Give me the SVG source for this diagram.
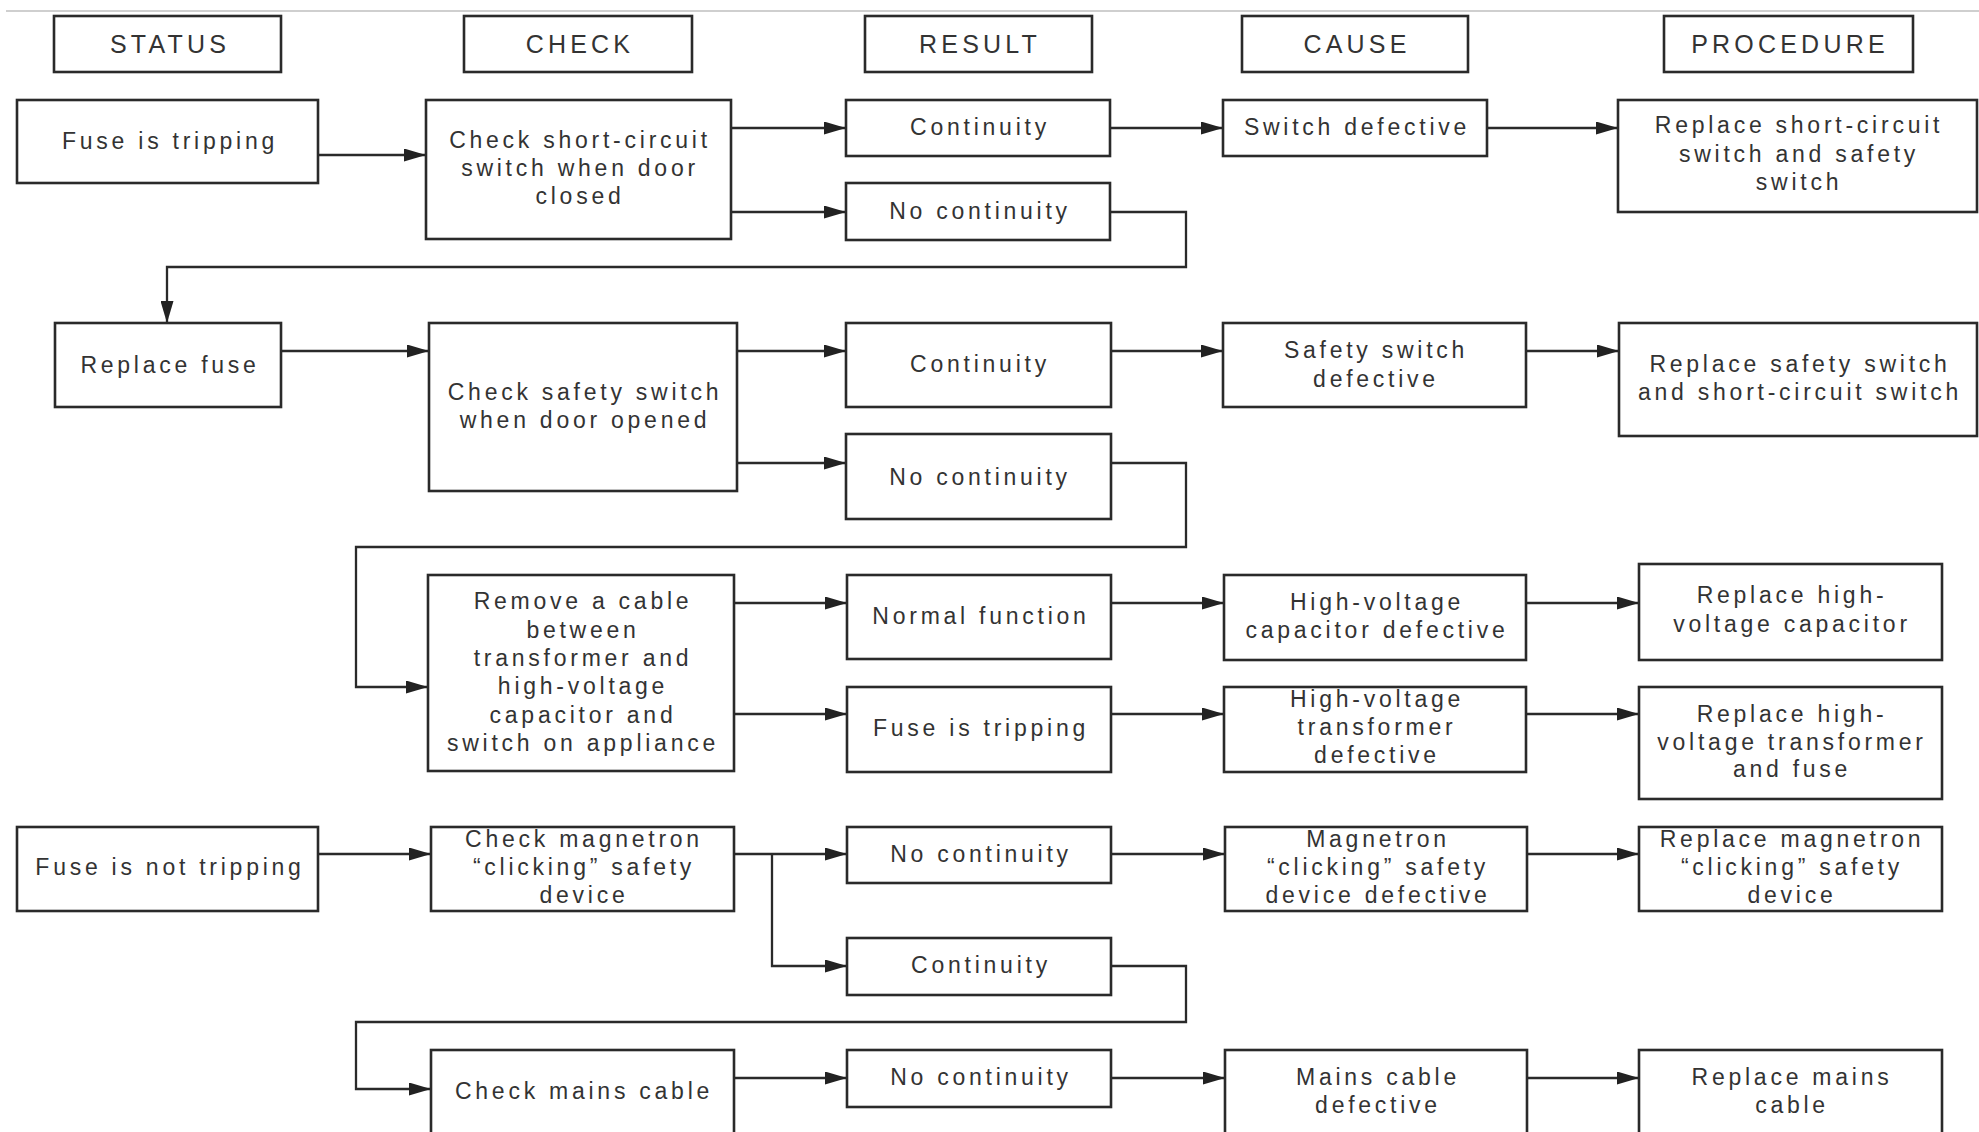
<svg xmlns="http://www.w3.org/2000/svg" width="1979" height="1132" viewBox="0 0 1979 1132">
  <style>
    .box { fill: #ffffff; stroke: #2a2a2a; stroke-width: 2.6; }
    .t { font-family: "Liberation Sans", Arial, sans-serif; font-size: 23px; letter-spacing: 3.75px; fill: #333333; text-anchor: middle; }
    .h { font-size: 25px; letter-spacing: 4.2px; }
    .c { fill: none; stroke: #2a2a2a; stroke-width: 2.3; }
  </style>
  <defs>
    <marker id="ah" markerWidth="22" markerHeight="13" refX="22" refY="6.5" orient="auto" markerUnits="userSpaceOnUse">
      <path d="M0,0 L22,6.5 L0,13 z" fill="#222222"/>
    </marker>
  </defs>

  <rect width="1979" height="1132" fill="#ffffff"/>
  <line x1="6" y1="11" x2="1979" y2="11" stroke="#cfcfcf" stroke-width="2"/>

  <!-- column headers -->
  <g id="h-status"><rect class="box" x="54" y="16" width="227" height="56"/><text class="t h" x="170" y="53">STATUS</text></g>
  <g id="h-check"><rect class="box" x="464" y="16" width="228" height="56"/><text class="t h" x="580" y="53">CHECK</text></g>
  <g id="h-result"><rect class="box" x="865" y="16" width="227" height="56"/><text class="t h" x="980" y="53">RESULT</text></g>
  <g id="h-cause"><rect class="box" x="1242" y="16" width="226" height="56"/><text class="t h" x="1357" y="53">CAUSE</text></g>
  <g id="h-procedure"><rect class="box" x="1664" y="16" width="249" height="56"/><text class="t h" x="1790" y="53">PROCEDURE</text></g>

  <!-- connectors -->
  <g id="connectors">
    <path class="c" d="M318,155 H426" marker-end="url(#ah)"/>
    <path class="c" d="M731,128 H846" marker-end="url(#ah)"/>
    <path class="c" d="M731,212 H846" marker-end="url(#ah)"/>
    <path class="c" d="M1110,128 H1223" marker-end="url(#ah)"/>
    <path class="c" d="M1487,128 H1618" marker-end="url(#ah)"/>
    <path class="c" d="M1110,212 H1186 V267 H167 V323" marker-end="url(#ah)"/>

    <path class="c" d="M281,351 H429" marker-end="url(#ah)"/>
    <path class="c" d="M737,351 H846" marker-end="url(#ah)"/>
    <path class="c" d="M737,463 H846" marker-end="url(#ah)"/>
    <path class="c" d="M1111,351 H1223" marker-end="url(#ah)"/>
    <path class="c" d="M1526,351 H1619" marker-end="url(#ah)"/>
    <path class="c" d="M1111,463 H1186 V547 H356 V687 H428" marker-end="url(#ah)"/>

    <path class="c" d="M734,603 H847" marker-end="url(#ah)"/>
    <path class="c" d="M734,714 H847" marker-end="url(#ah)"/>
    <path class="c" d="M1111,603 H1224" marker-end="url(#ah)"/>
    <path class="c" d="M1526,603 H1639" marker-end="url(#ah)"/>
    <path class="c" d="M1111,714 H1224" marker-end="url(#ah)"/>
    <path class="c" d="M1526,714 H1639" marker-end="url(#ah)"/>

    <path class="c" d="M318,854 H431" marker-end="url(#ah)"/>
    <path class="c" d="M734,854 H847" marker-end="url(#ah)"/>
    <path class="c" d="M772,854 V966 H847" marker-end="url(#ah)"/>
    <path class="c" d="M1111,854 H1225" marker-end="url(#ah)"/>
    <path class="c" d="M1527,854 H1639" marker-end="url(#ah)"/>
    <path class="c" d="M1111,966 H1186 V1022 H356 V1089 H431" marker-end="url(#ah)"/>

    <path class="c" d="M734,1078 H847" marker-end="url(#ah)"/>
    <path class="c" d="M1111,1078 H1225" marker-end="url(#ah)"/>
    <path class="c" d="M1527,1078 H1639" marker-end="url(#ah)"/>
  </g>

  <!-- short-circuit switch branch -->
  <g id="fuse-tripping"><rect class="box" x="17" y="100" width="301" height="83"/><text class="t" x="170" y="149">Fuse is tripping</text></g>
  <g id="check-short-circuit"><rect class="box" x="426" y="100" width="305" height="139"/>
    <text class="t" x="580" y="148">Check short-circuit<tspan x="580" y="176">switch when door</tspan><tspan x="580" y="204">closed</tspan></text></g>
  <g id="sc-continuity"><rect class="box" x="846" y="100" width="264" height="56"/><text class="t" x="980" y="135">Continuity</text></g>
  <g id="sc-no-continuity"><rect class="box" x="846" y="183" width="264" height="57"/><text class="t" x="980" y="219">No continuity</text></g>
  <g id="switch-defective"><rect class="box" x="1223" y="100" width="264" height="56"/><text class="t" x="1357" y="135">Switch defective</text></g>
  <g id="replace-sc-switch"><rect class="box" x="1618" y="100" width="359" height="112"/>
    <text class="t" x="1799" y="133">Replace short-circuit<tspan x="1799" y="162">switch and safety</tspan><tspan x="1799" y="190">switch</tspan></text></g>

  <!-- safety switch branch -->
  <g id="replace-fuse"><rect class="box" x="55" y="323" width="226" height="84"/><text class="t" x="170" y="373">Replace fuse</text></g>
  <g id="check-safety"><rect class="box" x="429" y="323" width="308" height="168"/>
    <text class="t" x="585" y="400">Check safety switch<tspan x="585" y="428">when door opened</tspan></text></g>
  <g id="ss-continuity"><rect class="box" x="846" y="323" width="265" height="84"/><text class="t" x="980" y="372">Continuity</text></g>
  <g id="ss-no-continuity"><rect class="box" x="846" y="434" width="265" height="85"/><text class="t" x="980" y="485">No continuity</text></g>
  <g id="safety-defective"><rect class="box" x="1223" y="323" width="303" height="84"/>
    <text class="t" x="1376" y="358">Safety switch<tspan x="1376" y="387">defective</tspan></text></g>
  <g id="replace-safety"><rect class="box" x="1619" y="323" width="358" height="113"/>
    <text class="t" x="1800" y="372">Replace safety switch<tspan x="1800" y="400">and short-circuit switch</tspan></text></g>

  <!-- high-voltage branch -->
  <g id="remove-cable"><rect class="box" x="428" y="575" width="306" height="196"/>
    <text class="t" x="583" y="609">Remove a cable<tspan x="583" y="638">between</tspan><tspan x="583" y="666">transformer and</tspan><tspan x="583" y="694">high-voltage</tspan><tspan x="583" y="723">capacitor and</tspan><tspan x="583" y="751">switch on appliance</tspan></text></g>
  <g id="normal-function"><rect class="box" x="847" y="575" width="264" height="84"/><text class="t" x="981" y="624">Normal function</text></g>
  <g id="hv-fuse-tripping"><rect class="box" x="847" y="687" width="264" height="85"/><text class="t" x="981" y="736">Fuse is tripping</text></g>
  <g id="hv-capacitor-defective"><rect class="box" x="1224" y="575" width="302" height="85"/>
    <text class="t" x="1377" y="610">High-voltage<tspan x="1377" y="638">capacitor defective</tspan></text></g>
  <g id="hv-transformer-defective"><rect class="box" x="1224" y="687" width="302" height="85"/>
    <text class="t" x="1377" y="707">High-voltage<tspan x="1377" y="735">transformer</tspan><tspan x="1377" y="763">defective</tspan></text></g>
  <g id="replace-hv-capacitor"><rect class="box" x="1639" y="564" width="303" height="96"/>
    <text class="t" x="1792" y="603">Replace high-<tspan x="1792" y="632">voltage capacitor</tspan></text></g>
  <g id="replace-hv-transformer"><rect class="box" x="1639" y="687" width="303" height="112"/>
    <text class="t" x="1792" y="722">Replace high-<tspan x="1792" y="750">voltage transformer</tspan><tspan x="1792" y="777">and fuse</tspan></text></g>

  <!-- magnetron / mains cable branch -->
  <g id="fuse-not-tripping"><rect class="box" x="17" y="827" width="301" height="84"/><text class="t" x="170" y="875">Fuse is not tripping</text></g>
  <g id="check-magnetron"><rect class="box" x="431" y="827" width="303" height="84"/>
    <text class="t" x="584" y="847">Check magnetron<tspan x="584" y="875">“clicking” safety</tspan><tspan x="584" y="903">device</tspan></text></g>
  <g id="mg-no-continuity"><rect class="box" x="847" y="827" width="264" height="56"/><text class="t" x="981" y="862">No continuity</text></g>
  <g id="mg-continuity"><rect class="box" x="847" y="938" width="264" height="57"/><text class="t" x="981" y="973">Continuity</text></g>
  <g id="magnetron-defective"><rect class="box" x="1225" y="827" width="302" height="84"/>
    <text class="t" x="1378" y="847">Magnetron<tspan x="1378" y="875">“clicking” safety</tspan><tspan x="1378" y="903">device defective</tspan></text></g>
  <g id="replace-magnetron"><rect class="box" x="1639" y="827" width="303" height="84"/>
    <text class="t" x="1792" y="847">Replace magnetron<tspan x="1792" y="875">“clicking” safety</tspan><tspan x="1792" y="903">device</tspan></text></g>
  <g id="check-mains"><rect class="box" x="431" y="1050" width="303" height="86"/><text class="t" x="584" y="1099">Check mains cable</text></g>
  <g id="mains-no-continuity"><rect class="box" x="847" y="1050" width="264" height="57"/><text class="t" x="981" y="1085">No continuity</text></g>
  <g id="mains-defective"><rect class="box" x="1225" y="1050" width="302" height="86"/>
    <text class="t" x="1378" y="1085">Mains cable<tspan x="1378" y="1113">defective</tspan></text></g>
  <g id="replace-mains"><rect class="box" x="1639" y="1050" width="303" height="86"/>
    <text class="t" x="1792" y="1085">Replace mains<tspan x="1792" y="1113">cable</tspan></text></g>
</svg>
